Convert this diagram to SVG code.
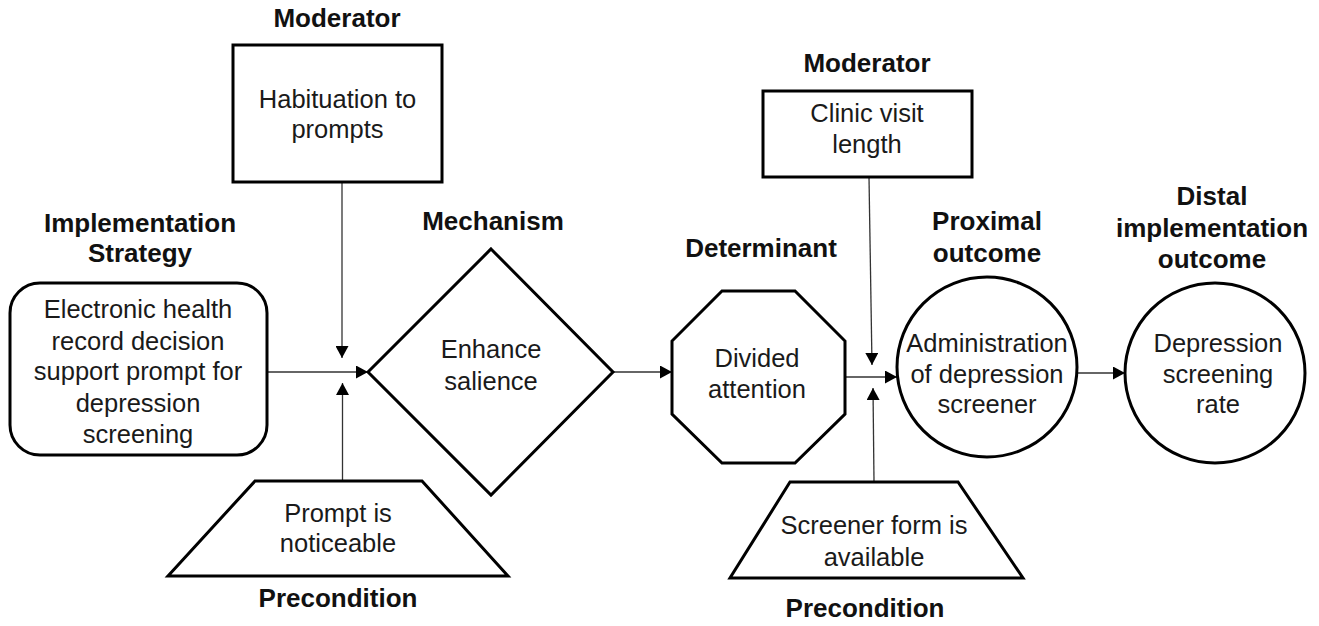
<svg xmlns="http://www.w3.org/2000/svg" width="1319" height="626" viewBox="0 0 1319 626">
  <style>
    .shape { fill: #ffffff; stroke: #000000; stroke-width: 3; stroke-linejoin: miter; }
    .label { font-family: "Liberation Sans", Arial, sans-serif; font-size: 25.5px; fill: #1a1a1a; text-anchor: middle; }
    .title { font-family: "Liberation Sans", Arial, sans-serif; font-size: 26px; font-weight: bold; fill: #111111; text-anchor: middle; }
    .link { fill: none; stroke: #333333; stroke-width: 1.3; }
  </style>
  <defs>
    <marker id="arrow" viewBox="0 0 12 13" refX="12" refY="6.5" markerWidth="12" markerHeight="13" markerUnits="userSpaceOnUse" orient="auto">
      <path d="M0,0 L12,6.5 L0,13 Z" fill="#000000"/>
    </marker>
  </defs>
  <rect width="1319" height="626" fill="#ffffff"/>

  <!-- Connectors -->
  <g id="connectors">
    <line class="link" x1="342" y1="183" x2="342" y2="358" marker-end="url(#arrow)"/>
    <line class="link" x1="342.5" y1="481" x2="342.5" y2="383" marker-end="url(#arrow)"/>
    <line class="link" x1="266" y1="372" x2="368" y2="372" marker-end="url(#arrow)"/>
    <line class="link" x1="613" y1="372" x2="672" y2="372" marker-end="url(#arrow)"/>
    <line class="link" x1="845" y1="377" x2="897" y2="377" marker-end="url(#arrow)"/>
    <line class="link" x1="869" y1="177" x2="872" y2="365" marker-end="url(#arrow)"/>
    <line class="link" x1="874" y1="482" x2="873" y2="388" marker-end="url(#arrow)"/>
    <line class="link" x1="1077" y1="373" x2="1125" y2="373" marker-end="url(#arrow)"/>
  </g>

  <!-- Moderator: habituation -->
  <g id="moderator-habituation">
    <text class="title" x="337" y="27">Moderator</text>
    <rect class="shape" x="233" y="45" width="209" height="137"/>
    <text class="label" x="337.5" y="108">Habituation to</text>
    <text class="label" x="337.5" y="138">prompts</text>
  </g>

  <!-- Implementation strategy -->
  <g id="strategy">
    <text class="title" x="140" y="232">Implementation</text>
    <text class="title" x="140" y="262">Strategy</text>
    <rect class="shape" x="10" y="283" width="257" height="172" rx="30" ry="30"/>
    <text class="label" x="138" y="318">Electronic health</text>
    <text class="label" x="138" y="350">record decision</text>
    <text class="label" x="138" y="380">support prompt for</text>
    <text class="label" x="138" y="412">depression</text>
    <text class="label" x="138" y="443">screening</text>
  </g>

  <!-- Precondition: prompt noticeable -->
  <g id="precondition-prompt">
    <polygon class="shape" points="255,481 422,481 508,576 168,576"/>
    <text class="label" x="338" y="522">Prompt is</text>
    <text class="label" x="338" y="552">noticeable</text>
    <text class="title" x="338" y="607">Precondition</text>
  </g>

  <!-- Mechanism -->
  <g id="mechanism">
    <text class="title" x="493" y="230">Mechanism</text>
    <polygon class="shape" points="491,249 613,372 491,495 368,372"/>
    <text class="label" x="491" y="358">Enhance</text>
    <text class="label" x="491" y="390">salience</text>
  </g>

  <!-- Determinant -->
  <g id="determinant">
    <text class="title" x="761" y="257">Determinant</text>
    <polygon class="shape" points="722,291 795,291 845,341 845,414 795,463 722,463 672,414 672,341"/>
    <text class="label" x="757" y="367">Divided</text>
    <text class="label" x="757" y="398">attention</text>
  </g>

  <!-- Moderator: clinic visit length -->
  <g id="moderator-visit">
    <text class="title" x="867" y="72">Moderator</text>
    <rect class="shape" x="763" y="91" width="209" height="86"/>
    <text class="label" x="867" y="122">Clinic visit</text>
    <text class="label" x="867" y="153">length</text>
  </g>

  <!-- Precondition: screener form -->
  <g id="precondition-form">
    <polygon class="shape" points="790,482 958,482 1023,578 730,578"/>
    <text class="label" x="874" y="534">Screener form is</text>
    <text class="label" x="874" y="566">available</text>
    <text class="title" x="865" y="617">Precondition</text>
  </g>

  <!-- Proximal outcome -->
  <g id="proximal-outcome">
    <text class="title" x="987" y="230">Proximal</text>
    <text class="title" x="987" y="262">outcome</text>
    <circle class="shape" cx="987" cy="367" r="90"/>
    <text class="label" x="987" y="352">Administration</text>
    <text class="label" x="987" y="383">of depression</text>
    <text class="label" x="987" y="413">screener</text>
  </g>

  <!-- Distal implementation outcome -->
  <g id="distal-outcome">
    <text class="title" x="1212" y="205">Distal</text>
    <text class="title" x="1212" y="237">implementation</text>
    <text class="title" x="1212" y="268">outcome</text>
    <circle class="shape" cx="1215" cy="373" r="90"/>
    <text class="label" x="1218" y="352">Depression</text>
    <text class="label" x="1218" y="383">screening</text>
    <text class="label" x="1218" y="413">rate</text>
  </g>
</svg>
